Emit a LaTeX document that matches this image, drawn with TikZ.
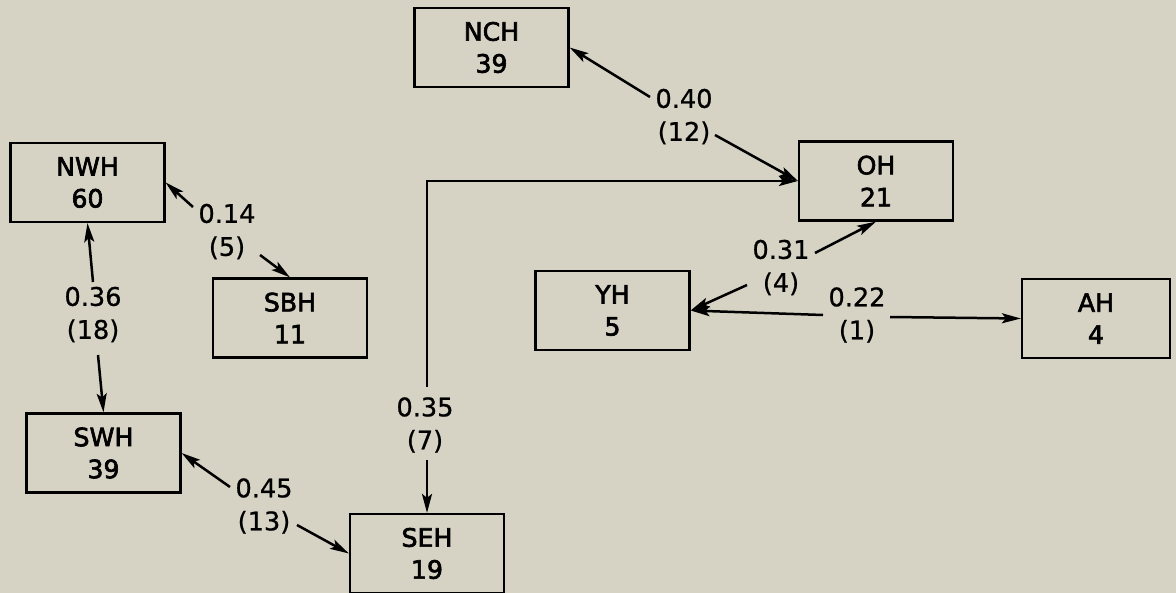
\documentclass[tikz,border=0pt]{standalone}
\usepackage{fontspec}
\setmainfont{DejaVu Sans}
\newfontfamily\boxfont[FakeBold=2.5]{DejaVu Sans}
\newfontfamily\labfont[FakeBold=0.8]{DejaVu Sans}
\usetikzlibrary{arrows.meta}
\definecolor{bg}{RGB}{214,210,196}
\begin{document}
\begin{tikzpicture}[x=0.5pt,y=-0.5pt,
  box/.style={draw, line width=1.1pt, fill=bg, minimum width=77pt, minimum height=39.5pt, inner sep=0pt, align=center, font=\boxfont\fontsize{12.6}{16}\selectfont},
  lab/.style={align=center, inner sep=0pt, font=\labfont\fontsize{12.8}{16.5}\selectfont},
  arr/.style={line width=1.25pt, -{Stealth[length=9.5pt,width=5pt,inset=2pt]}}]
\fill[bg] (0,0) rectangle (1176,593);
\useasboundingbox (0,0) rectangle (1176,593);
% boxes
\node[box] (NCH) at (491.5,47.5) {NCH\\39};
\node[box] (OH)  at (876,181)    {OH\\21};
\node[box] (NWH) at (87.5,182.5) {NWH\\60};
\node[box] (SBH) at (290,318)    {SBH\\11};
\node[box] (YH)  at (612.5,310.5){YH\\5};
\node[box, minimum width=74pt] (AH) at (1096,318.5) {AH\\4};
\node[box] (SWH) at (103.5,453)  {SWH\\39};
\node[box] (SEH) at (427,553.5)  {SEH\\19};
% labels
\node[lab] (l40) at (684,116.5) {0.40\\(12)};
\node[lab] (l14) at (227,231.5) {0.14\\(5)};
\node[lab] (l36) at (93,314.5)  {0.36\\(18)};
\node[lab] (l45) at (264,506)   {0.45\\(13)};
\node[lab] (l31) at (781,267.5) {0.31\\(4)};
\node[lab] (l22) at (857,315)   {0.22\\(1)};
\node[lab] (l35) at (425,425)   {0.35\\(7)};
% connector ends near labels
\coordinate (c40a) at (650,97);  \coordinate (c40b) at (715,135);
\coordinate (c14a) at (193,207); \coordinate (c14b) at (260,255);
\coordinate (c36a) at (93,282);  \coordinate (c36b) at (98,355);
\coordinate (c45a) at (230,487); \coordinate (c45b) at (297,525);
\coordinate (c31a) at (815,253); \coordinate (c31b) at (747,285);
\coordinate (c22a) at (823,315); \coordinate (c22b) at (890,317);
\coordinate (c35a) at (427,387); \coordinate (c35b) at (427,460);
% connectors
\draw[arr] (c40a) -- (NCH.east);
\draw[arr] (c40b) -- (OH.west);
\draw[arr] (c35a) |- (OH.west);
\draw[arr] (c35b) -- (SEH.north);
\draw[arr] (c36a) -- (NWH.south);
\draw[arr] (c36b) -- (SWH.north);
\draw[arr] (c14a) -- (NWH.east);
\draw[arr] (c14b) -- (SBH.north);
\draw[arr] (c45a) -- (SWH.east);
\draw[arr] (c45b) -- (SEH.west);
\draw[arr] (c31a) -- (OH.south);
\draw[arr] (c31b) -- (YH.east);
\draw[arr] (c22a) -- (YH.east);
\draw[arr] (c22b) -- (AH.west);
\end{tikzpicture}
\end{document}
